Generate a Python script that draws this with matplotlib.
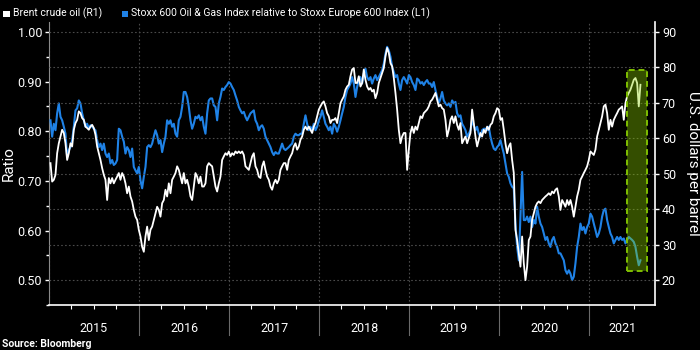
import matplotlib
matplotlib.use("Agg")
import matplotlib.pyplot as plt
import matplotlib.dates as mdates
import matplotlib.ticker as mticker
import pandas as pd
from matplotlib.colors import to_rgba
from matplotlib.patches import Rectangle
from matplotlib.transforms import blended_transform_factory

plt.rcParams["font.family"] = ["Roboto", "DejaVu Sans"]

FIRST_OBS = "2015-01-07"
LAST_OBS = "2021-07-28"

# Stoxx 600 Oil & Gas relative to Stoxx Europe 600 (left axis)
stoxx_ratio = [
    0.822, 0.789, 0.815, 0.802, 0.836, 0.856, 0.829, 0.822, 0.809, 0.795,
    0.748, 0.762, 0.768, 0.782, 0.809, 0.842, 0.846, 0.862, 0.856, 0.836,
    0.822, 0.809, 0.815, 0.805, 0.812, 0.809, 0.805, 0.802, 0.782, 0.768,
    0.775, 0.762, 0.775, 0.755, 0.748, 0.755, 0.735, 0.742, 0.732, 0.735,
    0.742, 0.805, 0.802, 0.789, 0.779, 0.755, 0.768, 0.762, 0.748, 0.765,
    0.728, 0.721, 0.715, 0.728, 0.701, 0.685, 0.708, 0.728, 0.768, 0.772,
    0.768, 0.775, 0.789, 0.802, 0.792, 0.775, 0.782, 0.758, 0.775,
    0.789, 0.822, 0.815, 0.822, 0.809, 0.815, 0.795, 0.789, 0.822, 0.829,
    0.849, 0.879, 0.879, 0.869, 0.849, 0.822, 0.805, 0.815, 0.829, 0.826,
    0.832, 0.822, 0.829, 0.809, 0.795, 0.836, 0.862, 0.866, 0.866, 0.852,
    0.849, 0.822, 0.856, 0.869, 0.886, 0.883, 0.889, 0.893, 0.899, 0.896,
    0.889, 0.883, 0.872, 0.862, 0.849, 0.842, 0.836, 0.839, 0.829, 0.822,
    0.829, 0.836, 0.839, 0.842, 0.822, 0.815, 0.802, 0.809, 0.812, 0.805,
    0.789, 0.782, 0.775, 0.768, 0.758, 0.752, 0.758, 0.755, 0.755, 0.765,
    0.775, 0.765,
    0.762, 0.765, 0.768, 0.772, 0.775, 0.789, 0.795, 0.792, 0.792, 0.795,
    0.795, 0.815, 0.832, 0.815, 0.802, 0.809, 0.802, 0.815, 0.802, 0.809,
    0.822, 0.829, 0.842, 0.829, 0.815, 0.809, 0.802, 0.809, 0.795, 0.815,
    0.809, 0.799, 0.809, 0.822, 0.836, 0.849, 0.869, 0.883, 0.889, 0.896,
    0.909, 0.896, 0.869, 0.889, 0.903, 0.909, 0.896, 0.916, 0.926, 0.909,
    0.903, 0.909, 0.896, 0.906, 0.913, 0.903, 0.909, 0.916, 0.923, 0.936,
    0.956, 0.970, 0.963, 0.950, 0.930, 0.919, 0.909, 0.913, 0.896, 0.883,
    0.903, 0.909,
    0.903, 0.896, 0.913, 0.909, 0.899, 0.893, 0.883, 0.906, 0.903, 0.896,
    0.899, 0.893, 0.899, 0.903, 0.896, 0.896, 0.889, 0.899, 0.883, 0.869,
    0.856, 0.866, 0.879, 0.862, 0.856, 0.852, 0.856, 0.849, 0.862, 0.856,
    0.859, 0.836, 0.829, 0.832, 0.815, 0.809, 0.802, 0.789, 0.795, 0.802,
    0.822, 0.812, 0.802, 0.809, 0.795, 0.789, 0.802, 0.805, 0.805, 0.802,
    0.809, 0.789, 0.775, 0.765, 0.762, 0.768, 0.772, 0.782, 0.768, 0.755,
    0.735, 0.715, 0.708, 0.695, 0.688, 0.685, 0.614, 0.567, 0.540, 0.628,
    0.718, 0.621,
    0.621, 0.628, 0.617, 0.628, 0.607, 0.621, 0.614, 0.648, 0.628, 0.614,
    0.607, 0.594, 0.581, 0.587, 0.574, 0.567, 0.581, 0.587, 0.574, 0.567,
    0.554, 0.554, 0.547, 0.540, 0.520, 0.513, 0.520, 0.513, 0.500, 0.507,
    0.534, 0.567, 0.587, 0.614, 0.601, 0.607, 0.594, 0.607, 0.614, 0.634,
    0.628, 0.614, 0.601, 0.587, 0.594, 0.607, 0.628, 0.641, 0.644, 0.621,
    0.607, 0.594, 0.587, 0.574, 0.581, 0.587, 0.581, 0.587, 0.581, 0.584,
    0.574, 0.581, 0.587, 0.584, 0.581, 0.577, 0.567, 0.547, 0.530, 0.540,
]

# Brent crude, USD per barrel (right axis)
brent_usd = [
    53.0, 47.8, 48.3, 49.7, 55.8, 58.6, 60.5, 62.4, 61.5, 58.6,
    53.9, 55.8, 58.6, 57.7, 62.4, 64.3, 65.2, 67.6, 67.1, 65.7,
    65.2, 63.3, 62.9, 62.4, 63.3, 63.8, 62.9, 61.0, 57.7, 55.8,
    53.9, 51.6, 49.7, 48.3, 42.6, 48.8, 47.3, 48.8, 47.3, 48.3,
    49.2, 50.2, 48.3, 50.2, 49.2, 47.3, 44.5, 46.4, 43.6, 42.2,
    39.8, 37.9, 37.0, 34.2, 32.3, 29.4, 28.0, 32.3, 35.1, 31.3,
    34.2, 35.1, 37.0, 38.9, 40.7, 39.8, 37.9, 41.7, 42.6,
    45.5, 43.6, 47.3, 44.5, 48.3, 49.2, 50.2, 52.1, 51.1, 49.2,
    47.3, 50.2, 47.3, 48.3, 46.4, 43.6, 42.6, 46.4, 50.2, 49.2,
    47.3, 49.2, 46.4, 46.4, 47.3, 52.1, 53.0, 52.5, 52.1, 49.2,
    46.4, 45.0, 47.3, 49.2, 53.9, 54.9, 55.8, 55.3, 56.3, 54.9,
    55.8, 55.3, 56.3, 55.8, 56.3, 55.8, 56.3, 55.3, 52.1, 51.6,
    51.1, 53.0, 54.9, 55.8, 52.1, 51.1, 49.2, 48.8, 52.1, 53.5,
    51.1, 49.2, 48.3, 46.4, 45.5, 47.3, 48.3, 47.3, 48.3, 51.1,
    52.1, 53.0,
    53.0, 51.1, 53.9, 54.9, 55.8, 57.7, 58.6, 56.8, 57.7, 59.6,
    60.5, 62.4, 63.3, 62.4, 63.3, 62.4, 61.5, 63.3, 64.3, 66.2,
    68.1, 69.0, 69.9, 70.4, 69.0, 67.1, 66.2, 64.3, 65.2, 65.2,
    65.7, 64.3, 67.1, 69.9, 70.9, 71.8, 73.7, 74.6, 75.1, 77.5,
    79.4, 79.8, 75.6, 75.6, 77.5, 74.6, 75.6, 79.4, 76.5, 74.6,
    73.7, 74.2, 73.2, 73.7, 71.3, 72.8, 75.6, 77.0, 78.4, 79.8,
    83.1, 85.5, 84.1, 81.2, 80.3, 77.0, 72.8, 68.1, 62.4, 58.6,
    60.5, 61.5,
    61.5, 51.1, 56.8, 61.5, 63.3, 61.5, 63.3, 62.4, 64.3, 66.2,
    65.7, 67.1, 67.6, 68.1, 69.0, 70.4, 70.9, 71.8, 72.8, 70.9,
    69.0, 69.5, 68.5, 68.1, 65.2, 60.5, 62.4, 65.2, 66.2, 64.3,
    66.2, 63.8, 62.4, 64.3, 58.6, 59.6, 60.5, 58.6, 60.1, 61.5,
    68.1, 64.3, 60.5, 57.7, 59.6, 61.5, 60.5, 62.4, 61.5, 63.3,
    62.4, 63.8, 64.3, 66.2, 67.1, 68.5, 68.1, 65.2, 65.7, 62.4,
    58.6, 55.8, 57.7, 58.6, 53.9, 50.2, 34.2, 31.3, 27.6, 23.8,
    32.3, 24.8,
    20.0, 23.8, 31.3, 32.3, 37.0, 38.9, 40.7, 41.7, 42.2, 41.7,
    42.6, 43.1, 43.6, 44.0, 44.5, 44.0, 45.0, 44.5, 45.5, 45.9,
    43.6, 39.8, 42.6, 41.7, 40.7, 42.6, 41.2, 42.6, 40.7, 37.9,
    40.7, 43.6, 45.5, 48.3, 49.2, 50.2, 51.1, 52.1, 53.9, 56.3,
    55.8, 55.3, 56.8, 60.5, 62.4, 64.3, 66.2, 69.0, 69.5, 67.1,
    62.4, 65.2, 63.3, 65.2, 66.2, 67.1, 68.1, 68.5, 69.0, 65.2,
    69.9, 71.8, 72.8, 73.7, 75.1, 76.5, 77.0, 75.6, 69.0, 75.1,
]

years = [2015, 2016, 2017, 2018, 2019, 2020, 2021]

# highlighted recent stretch (in Brent units)
highlight_start = "2021-06-03"
highlight_end = "2021-08-23"
highlight_low = 22.7
highlight_high = 79.2

BLUE = "#1f82e6"
GRID = "#4a4a4a"

dates = pd.date_range(FIRST_OBS, LAST_OBS, periods=len(stoxx_ratio))
x_start = pd.Timestamp("2015-01-01")
x_end = pd.Timestamp("2021-09-25")

fig = plt.figure(figsize=(7, 3.5), dpi=100, facecolor="black")
ax = fig.add_axes([0.07, 0.1286, 0.8657, 0.8086])
ax.set_facecolor("black")
ax2 = ax.twinx()

ax.plot(dates, stoxx_ratio, color=BLUE, lw=1.5, zorder=3)
ax2.plot(dates, brent_usd, color="white", lw=1.3, zorder=3)

ax.set_xlim(x_start, x_end)
ax.set_ylim(0.45, 1.02)
ax2.set_ylim(13, 92.8)

# left axis
ax.yaxis.set_major_locator(mticker.MultipleLocator(0.1))
ax.yaxis.set_minor_locator(mticker.MultipleLocator(0.05))
ax.yaxis.set_major_formatter(mticker.FormatStrFormatter("%.2f"))
ax.tick_params(axis="y", which="both", colors="white", labelsize=9,
               length=3, width=1, pad=2)
ax.tick_params(axis="y", which="minor", length=2)
ax.set_ylabel("Ratio", color="white", fontsize=11, va="center")
ax.yaxis.set_label_coords(-0.066, 0.5)

# right axis
ax2.yaxis.set_major_locator(mticker.MultipleLocator(10))
ax2.tick_params(axis="y", colors="white", labelsize=9, length=3, width=1, pad=2)
ax2.set_ylabel("U.S. dollars per barrel", color="white", fontsize=11,
               rotation=270, va="center")
ax2.yaxis.set_label_coords(1.063, 0.5)
ax2.grid(axis="y", color=GRID, linestyle=(0, (1.5, 2)), lw=0.8)

# x axis: quarterly ticks, year gridlines
ax.xaxis.set_major_locator(mdates.YearLocator())
ax.xaxis.set_minor_locator(mdates.MonthLocator(bymonth=[4, 7, 10]))
ax.xaxis.set_major_formatter(mticker.NullFormatter())
ax.tick_params(axis="x", which="major", length=0)
ax.tick_params(axis="x", which="minor", length=3, colors="white", width=0.8)
ax.grid(axis="x", which="major", color=GRID, linestyle=(0, (1.5, 2)), lw=0.8)

for a in (ax, ax2):
    a.spines["top"].set_visible(False)
ax.spines["right"].set_visible(False)
ax2.spines["left"].set_visible(False)
ax2.spines["bottom"].set_visible(False)
ax.spines["left"].set_color("#8a8a8a")
ax.spines["bottom"].set_color("white")
ax.spines["bottom"].set_linewidth(1.2)
ax2.spines["right"].set_color("white")
ax2.spines["right"].set_linewidth(1.2)

# year labels under the axis, split by thin separators
trans = blended_transform_factory(ax.transData, ax.transAxes)
for yr in years:
    lo = max(pd.Timestamp(f"{yr}-01-01"), x_start)
    hi = min(pd.Timestamp(f"{yr + 1}-01-01"), x_end)
    mid = lo + (hi - lo) / 2
    ax.text(mid, -0.082, str(yr), transform=trans, ha="center", va="center",
            color="white", fontsize=9)
    if yr > years[0]:
        ax.axvline(pd.Timestamp(f"{yr}-01-01"), ymin=-0.106, ymax=0,
                   clip_on=False, color="#6a6a6a", lw=0.8)

# highlight box
x0 = mdates.date2num(pd.Timestamp(highlight_start))
x1 = mdates.date2num(pd.Timestamp(highlight_end))
ax2.add_patch(Rectangle((x0, highlight_low), x1 - x0, highlight_high - highlight_low,
                        facecolor=to_rgba("#8fd500", 0.37), edgecolor="#7fbf00",
                        lw=1.4, linestyle=(0, (3, 2)), zorder=5))

# legend
fig.patches.append(Rectangle((0.0045, 0.951), 0.0095, 0.019, transform=fig.transFigure,
                             facecolor="white", edgecolor="none"))
fig.text(0.0185, 0.961, "Brent crude oil (R1)", color="white", fontsize=7.5,
         va="center", ha="left")
fig.patches.append(Rectangle((0.1738, 0.951), 0.0095, 0.019, transform=fig.transFigure,
                             facecolor=BLUE, edgecolor="none"))
fig.text(0.187, 0.961,
         "Stoxx 600 Oil & Gas Index relative to Stoxx Europe 600 Index (L1)",
         color="white", fontsize=7.5, va="center", ha="left")

fig.text(0.003, 0.017, "Source: Bloomberg", color="white", fontsize=7.5,
         fontweight="bold", va="center", ha="left")

fig.savefig("out.png", dpi=100, facecolor="black")
